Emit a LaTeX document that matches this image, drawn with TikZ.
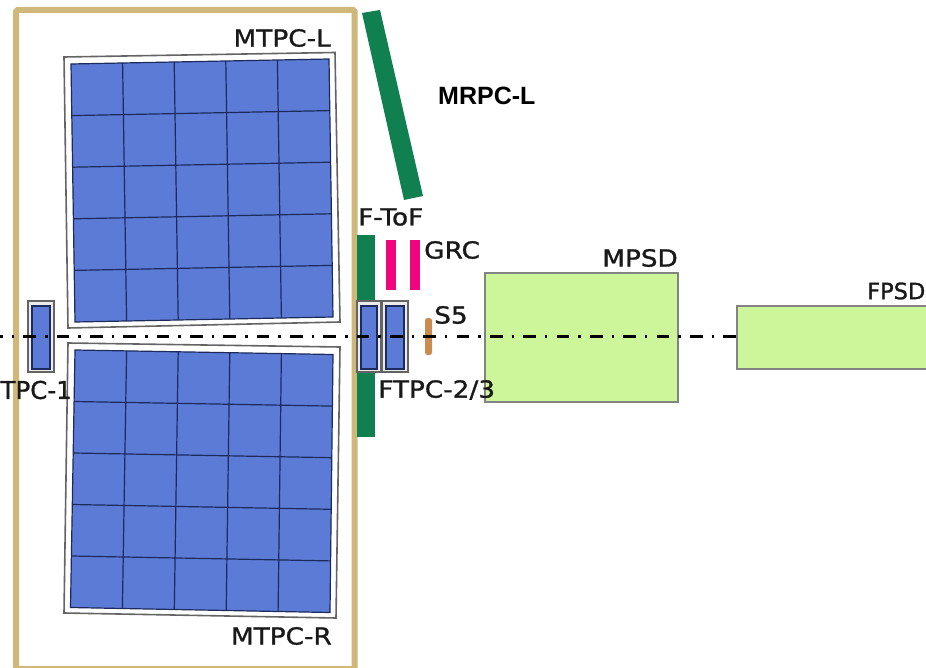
\documentclass[tikz,border=0pt]{standalone}
\usepackage{fontspec}
\setmainfont{DejaVu Sans}[FakeStretch=1.12,FakeBold=1.2]
\newfontfamily\plainlabel{DejaVu Sans}[FakeBold=1.2]
\newfontfamily\boldlabel{Liberation Sans}[BoldFont={Liberation Sans Bold}]
\usetikzlibrary{calc}
\definecolor{gold}{RGB}{207,184,122}
\definecolor{padblue}{RGB}{91,123,214}
\definecolor{gridblue}{RGB}{28,42,92}
\definecolor{tofgreen}{RGB}{16,128,80}
\definecolor{grcpink}{RGB}{240,4,127}
\definecolor{sfive}{RGB}{201,139,80}
\definecolor{psdgreen}{RGB}{205,245,154}
\definecolor{framegray}{RGB}{100,100,100}

\begin{document}
\begin{tikzpicture}[
  x=1pt, y=-1pt,
  frame/.style  = {draw=framegray, line width=1.6pt, fill=white},
  pads/.style   = {draw=gridblue, line width=1.2pt, fill=padblue},
  padline/.style= {draw=gridblue, line width=1.2pt},
  psd/.style    = {draw=framegray!80, line width=1.4pt, fill=psdgreen},
  tof/.style    = {fill=tofgreen},
  grc/.style    = {fill=grcpink},
  beam/.style   = {black, line width=3pt, dash pattern=on 12.7pt off 9pt on 2.5pt off 9.13pt},
  lbl/.style    = {inner sep=0pt, text=black!90, font=\fontsize{23.5}{27}\selectfont}
]
\useasboundingbox (0,0) rectangle (926,668);
\clip (0,0) rectangle (926,668);

\draw[gold, line width=6pt, rounded corners=1.5pt] (16,10) rectangle (354.5,669);

\draw[frame] (64,57) -- (335,52.5) -- (340,322) -- (68,328) -- cycle;
\coordinate (la) at (71,64);
\coordinate (lb) at (329,59);
\coordinate (lc) at (333,317);
\coordinate (ld) at (75,322);
\draw[pads] (la) -- (lb) -- (lc) -- (ld) -- cycle;
\foreach \i in {1,...,4} {
  \draw[padline] ($(la)!\i/5!(lb)$) -- ($(ld)!\i/5!(lc)$);
  \draw[padline] ($(la)!\i/5!(ld)$) -- ($(lb)!\i/5!(lc)$);
}

\draw[frame] (68,343) -- (340,347) -- (336,618) -- (64,613) -- cycle;
\coordinate (ra) at (75,350);
\coordinate (rb) at (333,354.5);
\coordinate (rc) at (330,612.5);
\coordinate (rd) at (70.5,607.5);
\draw[pads] (ra) -- (rb) -- (rc) -- (rd) -- cycle;
\foreach \i in {1,...,4} {
  \draw[padline] ($(ra)!\i/5!(rb)$) -- ($(rd)!\i/5!(rc)$);
  \draw[padline] ($(ra)!\i/5!(rd)$) -- ($(rb)!\i/5!(rc)$);
}

\fill[tof] (362,13) -- (380,10) -- (423,196) -- (404,200) -- cycle;
\fill[tof] (357,235) rectangle (375,437);
\fill[grc] (386,240) rectangle (396,290);
\fill[grc] (410,240) rectangle (420,290);

\draw[psd] (485,273) rectangle (678,402);
\draw[psd] (737,306) rectangle (930,369);

\foreach \xa/\xb in {28/54, 357/381, 382/408} {
  \draw[framegray, line width=1.4pt, fill=white!85!gray] (\xa,301) rectangle (\xb,372);
  \draw[pads] (\xa+4,306) rectangle (\xb-4,369);
}

\fill[sfive, rounded corners=2.5pt] (425,318) rectangle (432,355);

\coordinate (beamstart) at (-10,336);
\coordinate (beamend) at (737,336);
\draw[beam] (beamstart) -- (beamend);

\node[lbl, anchor=east]  (mtpcl) at (331,38)  {MTPC-L};
\node[lbl, anchor=east]  (mtpcr) at (332,636) {MTPC-R};
\node[anchor=west, inner sep=0pt, font=\boldlabel\fontsize{25}{29}\selectfont\bfseries] (mrpcl) at (438,96) {MRPC-L};
\node[lbl, anchor=west]  (ftof)  at (358,217) {F-ToF};
\node[lbl, anchor=west]  (grclbl) at (424,250) {GRC};
\node[lbl, anchor=west]  (sfivelbl) at (434,315) {S5};
\node[lbl, anchor=east]  (mpsd)  at (678,258) {MPSD};
\node[lbl, anchor=east, font=\plainlabel\fontsize{22.5}{26}\selectfont]  (fpsd)  at (925.5,291) {FPSD};
\node[lbl, anchor=east, font=\plainlabel\fontsize{24.5}{28}\selectfont]  (ftpca) at (72,390)  {TPC-1};
\node[lbl, anchor=west]  (ftpcb) at (378,390) {FTPC-2/3};
\end{tikzpicture}
\end{document}
